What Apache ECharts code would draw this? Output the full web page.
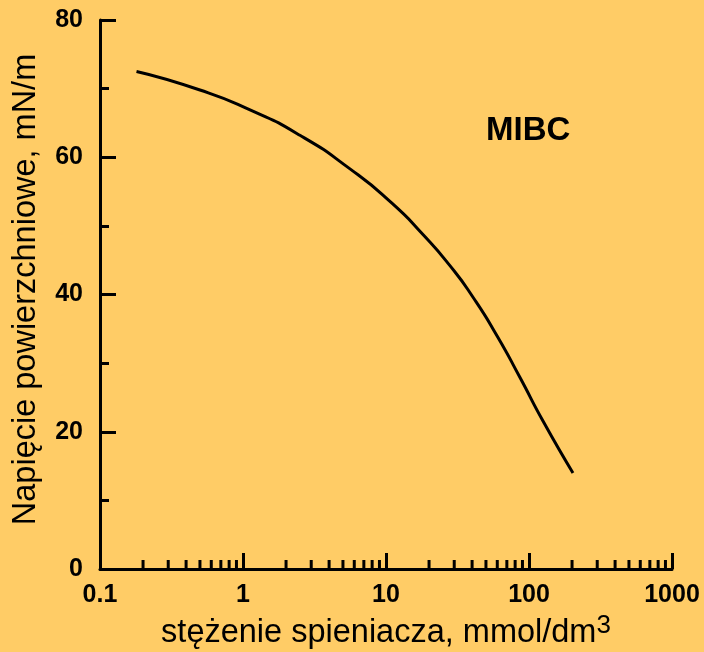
<!DOCTYPE html>
<html>
<head>
<meta charset="utf-8">
<script src="https://cdn.jsdelivr.net/npm/echarts@6/dist/echarts.min.js"></script>
<style>
html,body{margin:0;padding:0;background:#FFCC66;}
#chart{width:704px;height:652px;}
</style>
</head>
<body>
<div id="chart"></div>
<script>
// Data (x: mmol/dm3, y: mN/m)
const concentration = [0.18, 0.5, 1.12, 2.5, 5.6, 11, 18.2, 28, 40.6, 59.7, 86.5, 125, 203];
const surfaceTension = [72.5, 69.8, 66.9, 63.2, 58.3, 53.3, 48.7, 44.2, 39.6, 34.0, 27.9, 21.6, 14.0];
const seriesName = 'MIBC';
const xMinorTickValues = [0.2,0.3,0.4,0.5,0.6,0.7,0.8,0.9, 2,3,4,5,6,7,8,9, 20,30,40,50,60,70,80,90, 200,300,400,500,600,700,800,900];
const xTickLabels = ['0.1','1','10','100','1000'];
const yTickLabels = ['0','20','40','60','80'];
const xTitle = 'stężenie spieniacza, mmol/dm';
const xTitleSup = '3';
const yTitle = 'Napięcie powierzchniowe, mN/m';

const FONT = 'Liberation Sans, Arial, sans-serif';
const chart = echarts.init(document.getElementById('chart'), null, {renderer: 'canvas'});

chart.setOption({
  backgroundColor: '#FFCC66',
  animation: false,
  grid: {left: 100, right: 32, top: 20, bottom: 83, containLabel: false, outerBoundsMode: 'none'},
  graphic: [{
    type: 'text', left: 486, top: 114,
    style: {text: seriesName, fontSize: 33, fontWeight: 'bold', fontFamily: FONT, fill: '#000'}
  }],
  xAxis: {
    type: 'log', logBase: 10, min: 0.1, max: 1000,
    name: '{a|' + xTitle + '}{s|' + xTitleSup + '}',
    nameLocation: 'middle', nameGap: 43,
    nameTextStyle: {
      color: '#000', fontFamily: FONT, fontSize: 32.5,
      rich: {
        a: {fontSize: 32.5, lineHeight: 32, verticalAlign: 'bottom', fontFamily: FONT, color: '#000'},
        s: {fontSize: 26, lineHeight: 37, verticalAlign: 'top', fontFamily: FONT, color: '#000'}
      }
    },
    axisLine: {show: true, onZero: false, lineStyle: {color: '#000', width: 3}},
    axisTick: {show: true, inside: true, length: 16, lineStyle: {color: '#000', width: 3}},
    minorTick: {show: false},
    splitLine: {show: false},
    minorSplitLine: {show: false},
    axisLabel: {
      color: '#000', fontSize: 25, fontWeight: 'bold', fontFamily: FONT, margin: 14,
      formatter: function (v) {
        const i = Math.round(Math.log10(v)) + 1;
        return xTickLabels[i] !== undefined ? xTickLabels[i] : String(v);
      }
    }
  },
  yAxis: {
    type: 'value', min: 0, max: 80, interval: 20,
    name: yTitle, nameLocation: 'middle', nameGap: 57,
    nameTextStyle: {color: '#000', fontFamily: FONT, fontSize: 32.5, padding: [0, 0, 0, 10]},
    axisLine: {show: true, onZero: false, lineStyle: {color: '#000', width: 3}},
    axisTick: {show: true, inside: true, length: 16, lineStyle: {color: '#000', width: 3}},
    minorTick: {show: true, splitNumber: 2, length: 9, lineStyle: {color: '#000', width: 3}},
    splitLine: {show: false},
    axisLabel: {
      color: '#000', fontSize: 25, fontWeight: 'bold', fontFamily: FONT, margin: 17,
      formatter: function (v) { return yTickLabels[Math.round(v / 20)]; }
    }
  },
  series: [
    {
      name: seriesName, type: 'line', smooth: 0.6, symbol: 'none',
      lineStyle: {color: '#000', width: 3},
      data: concentration.map((x, i) => [x, surfaceTension[i]]),
      z: 3
    },
    {
      type: 'custom', silent: true, z: 5,
      data: xMinorTickValues.map(v => [v, 0]),
      renderItem: function (params, api) {
        const p = api.coord([api.value(0), api.value(1)]);
        return {
          type: 'line',
          shape: {x1: p[0], y1: p[1], x2: p[0], y2: p[1] - 9},
          style: {stroke: '#000', lineWidth: 3}
        };
      },
      clip: false
    }
  ]
});
</script>
</body>
</html>
